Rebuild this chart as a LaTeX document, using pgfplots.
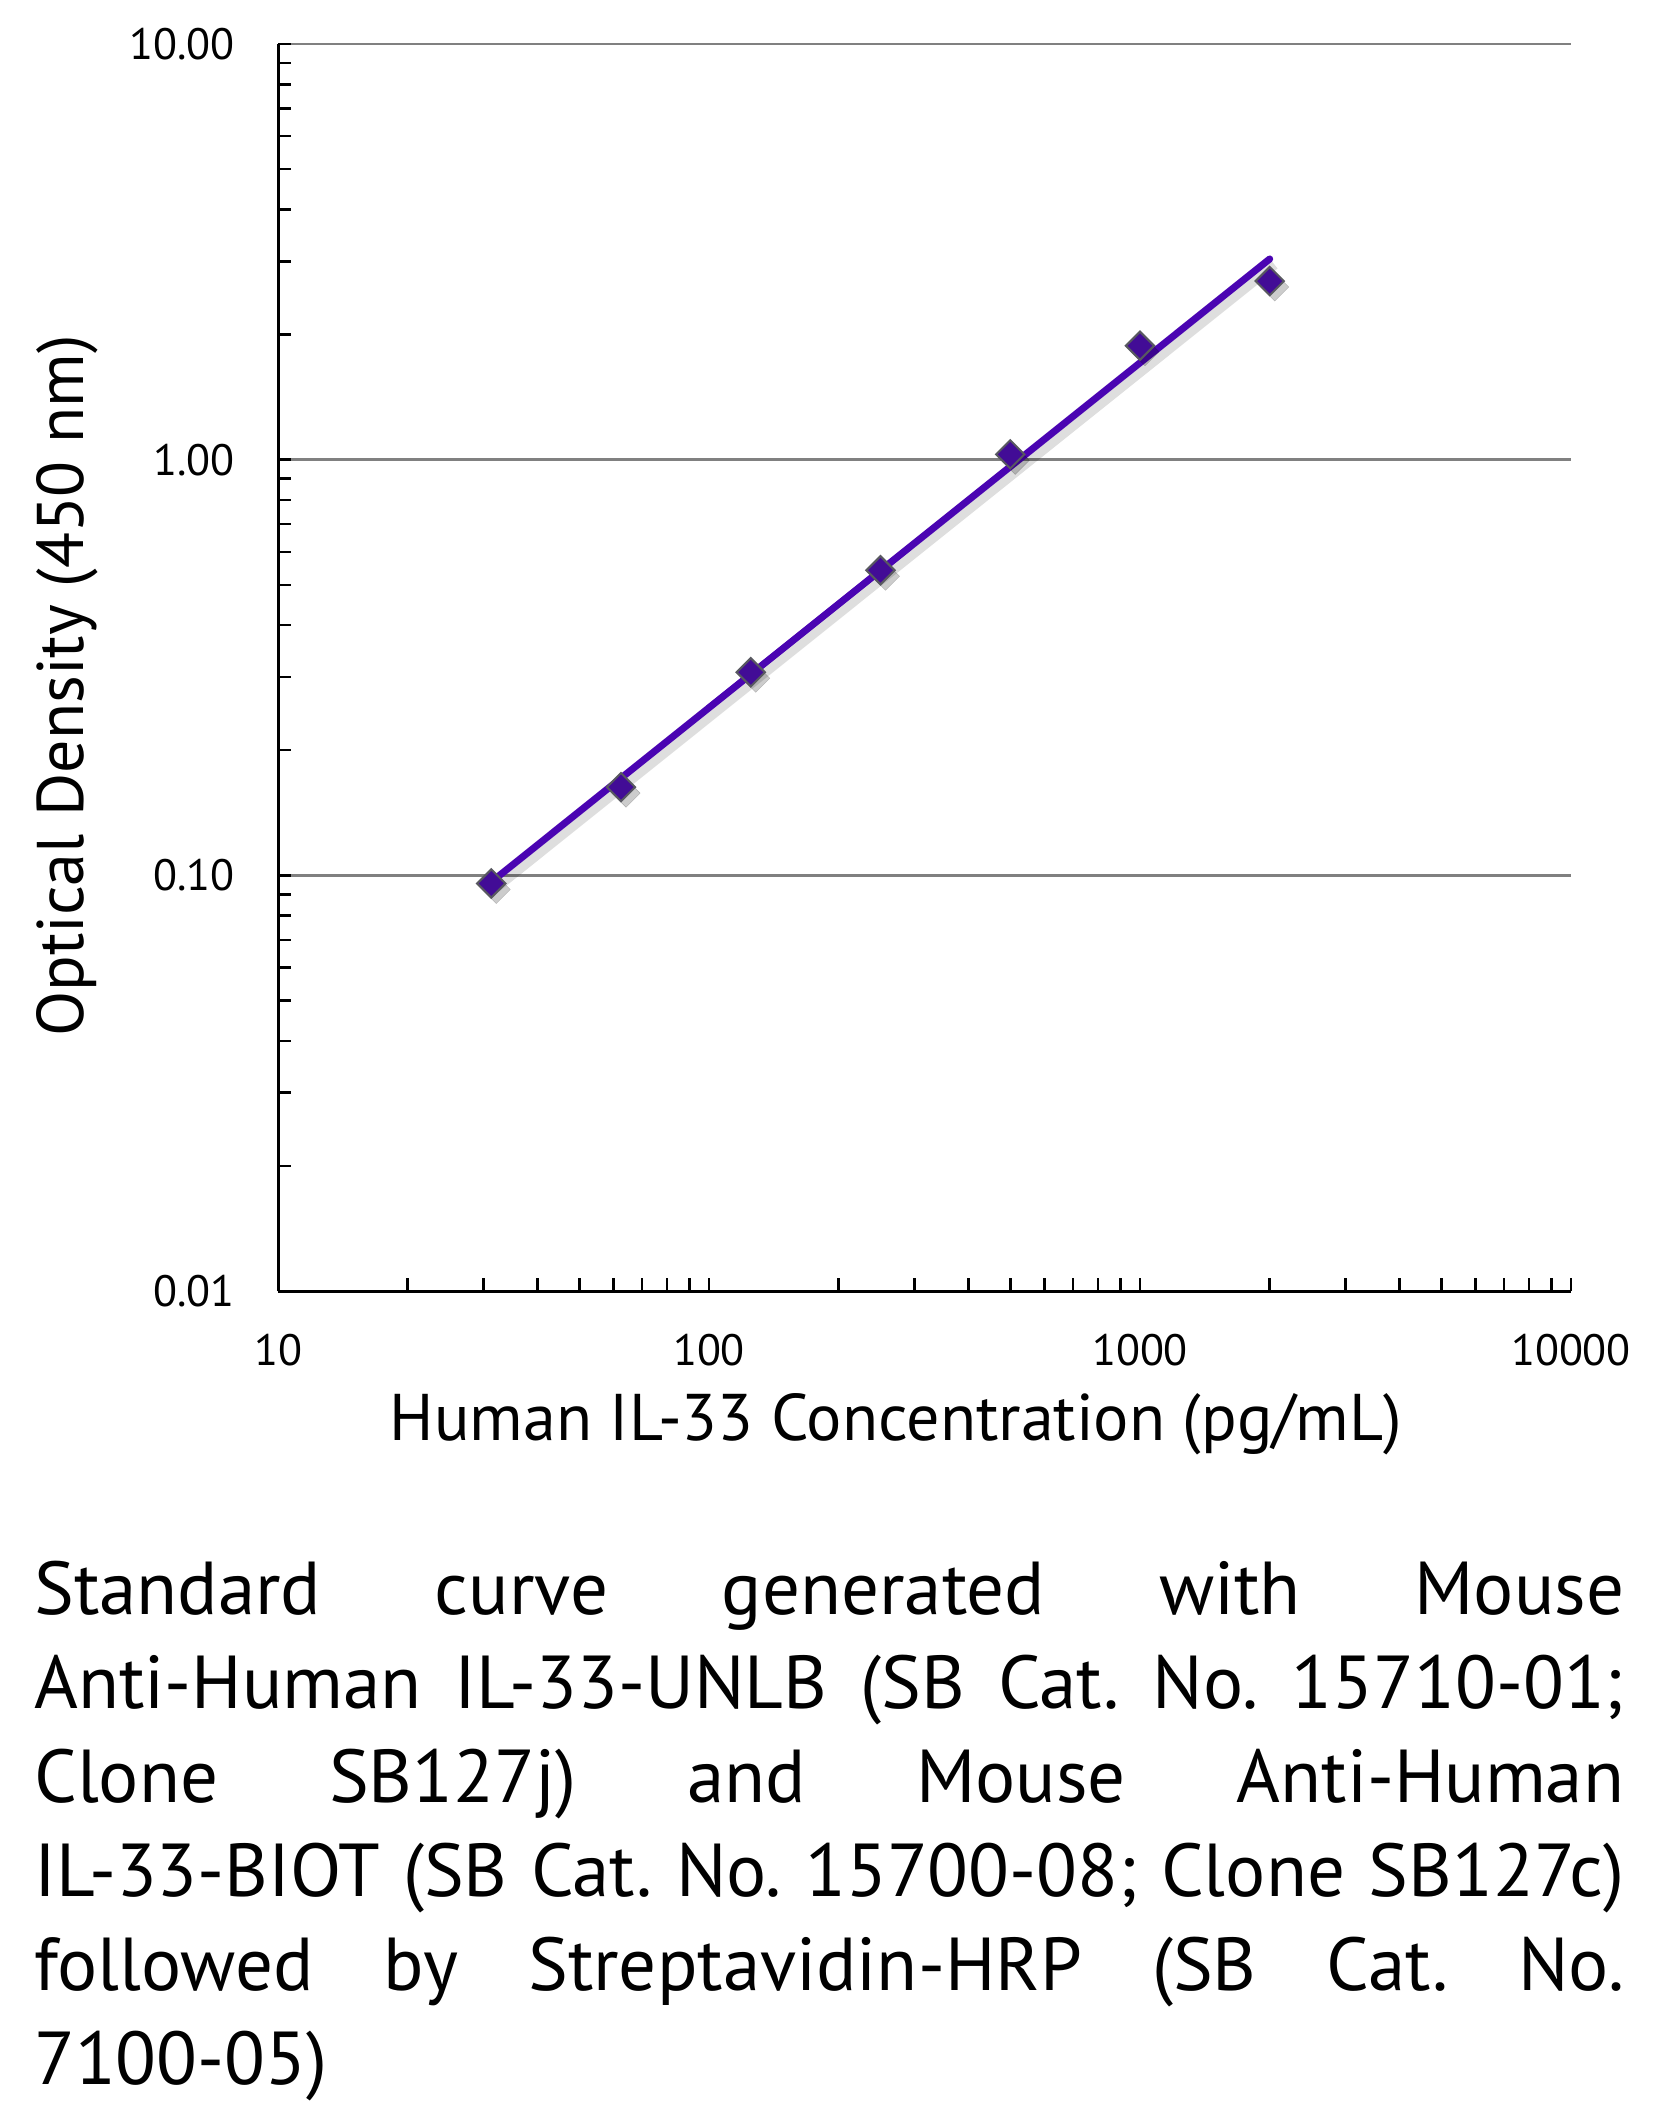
\documentclass[border=0pt]{standalone}
\usepackage{fontspec}
\setmainfont{PT Sans}
\usepackage{pgfplots}
\usepackage{pgfplotstable}
\pgfplotsset{compat=1.18}
\frenchspacing
\definecolor{lineC}{RGB}{74,4,178}
\definecolor{markC}{RGB}{66,12,150}
\definecolor{edgeC}{RGB}{88,88,96}
\definecolor{gridC}{RGB}{128,128,128}
\pgfplotstableread{
x y
31.25 0.0956
62.5 0.163
125 0.308
250 0.542
500 1.03
1000 1.88
2000 2.69
}\pts
\pgfplotstableread{
x y
31.25 0.0964
2000 3.04
}\fitline
\newcommand\tickfont{\fontsize{44bp}{44bp}\selectfont}
\newcommand\titlefont{\fontsize{66bp}{66bp}\selectfont}
\newcommand\capfont{\fontsize{75bp}{94bp}\selectfont}
\begin{document}
\begin{tikzpicture}
\fill[white] (0,0) rectangle (1658bp,-2109bp);
\path[use as bounding box] (0,0) rectangle (1658bp,-2109bp);
\begin{axis}[
  at={(278bp,-1291bp)}, anchor=south west,
  scale only axis, width=1293bp, height=1247bp,
  xmode=log, ymode=log,
  xmin=10, xmax=10000, ymin=0.01, ymax=10,
  axis x line*=bottom, axis y line*=left,
  axis line style={-, black, line width=3bp},
  xtick={10,100,1000,10000}, xticklabels={10,100,1000,10000},
  ytick={0.01,0.1,1,10}, yticklabels={0.01,0.10,1.00,10.00},
  minor xtick={20,30,40,50,60,70,80,90,200,300,400,500,600,700,800,900,2000,3000,4000,5000,6000,7000,8000,9000},
  minor ytick={0.02,0.03,0.04,0.05,0.06,0.07,0.08,0.09,0.2,0.3,0.4,0.5,0.6,0.7,0.8,0.9,2,3,4,5,6,7,8,9},
  ymajorgrids, major grid style={gridC, line width=2.5bp},
  tick style={black, line width=2.5bp},
  major tick length=13bp, minor tick length=13bp,
  tick align=inside,
  yticklabel style={anchor=east, inner sep=0pt, xshift=-43bp, font=\tickfont},
  xticklabel style={anchor=north, inner sep=0pt, yshift=-43bp, font=\tickfont},
  clip=false,
]
\addplot[no marks, draw=black, opacity=0.13, line width=9bp, xshift=5bp, yshift=-6bp] table {\fitline};
\addplot[only marks, mark=square*, mark size=10bp, mark options={rotate=45, fill=black, draw=none, opacity=0.2}, xshift=5bp, yshift=-6bp] table {\pts};
\addplot[only marks, mark=square*, mark size=10bp, mark options={rotate=45, fill=markC, draw=edgeC, line width=2bp}] table {\pts};
\addplot[no marks, draw=lineC, line width=7bp, line cap=round] table {\fitline};
\end{axis}
\node[anchor=base, inner sep=0, font=\titlefont] at (896bp,-1440bp) {Human IL-33 Concentration (pg/mL)};
\node[rotate=90, anchor=base, inner sep=0, font=\titlefont] at (83bp,-686bp) {Optical Density (450 nm)};
\begin{scope}[every node/.style={anchor=base west, inner sep=0, font=\capfont}]
\node at (34bp,-1614bp) {\makebox[1590bp][s]{Standard curve generated with Mouse}};
\node at (34bp,-1708bp) {\makebox[1590bp][s]{Anti-Human IL-33-UNLB (SB Cat. No. 15710-01;}};
\node at (34bp,-1802bp) {\makebox[1590bp][s]{Clone SB127j) and Mouse Anti-Human}};
\node at (34bp,-1896bp) {\makebox[1590bp][s]{IL-33-BIOT (SB Cat. No. 15700-08; Clone SB127c)}};
\node at (34bp,-1990bp) {\makebox[1590bp][s]{followed by Streptavidin-HRP (SB Cat. No.}};
\node at (34bp,-2084bp) {7100-05)};
\end{scope}
\end{tikzpicture}
\end{document}
